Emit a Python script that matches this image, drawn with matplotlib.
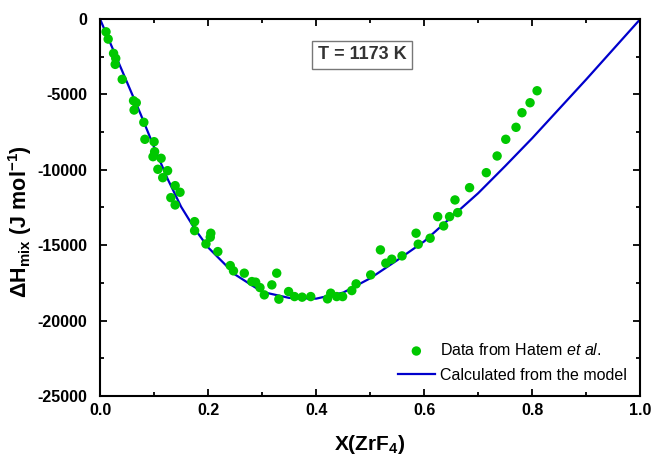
import numpy as np
import matplotlib
matplotlib.use('Agg')
import matplotlib.pyplot as plt
from matplotlib.ticker import MultipleLocator, FormatStrFormatter

plt.rcParams['font.family'] = 'Liberation Sans'
plt.rcParams['axes.unicode_minus'] = False
plt.rcParams['mathtext.fontset'] = 'custom'
plt.rcParams['mathtext.rm'] = 'Liberation Sans'
plt.rcParams['mathtext.bf'] = 'Liberation Sans:bold'
plt.rcParams['mathtext.it'] = 'Liberation Sans:italic'

x_exp = [0.011, 0.015, 0.025, 0.029, 0.028, 0.041, 0.062, 0.067, 0.063, 0.081,
         0.083, 0.100, 0.101, 0.098, 0.113, 0.107, 0.125, 0.116, 0.139, 0.148,
         0.131, 0.139, 0.175, 0.175, 0.205, 0.204, 0.196, 0.218, 0.241, 0.247,
         0.267, 0.327, 0.281, 0.288, 0.296, 0.318, 0.304, 0.331, 0.349, 0.360,
         0.374, 0.390, 0.421, 0.427, 0.438, 0.449, 0.466, 0.474, 0.501, 0.519,
         0.529, 0.540, 0.559, 0.585, 0.589, 0.611, 0.625, 0.636, 0.647, 0.662,
         0.657, 0.684, 0.715, 0.735, 0.751, 0.770, 0.781, 0.796, 0.809]
y_exp = [-842, -1326, -2274, -2606, -3003, -3998, -5417, -5549, -6033, -6849,
         -7976, -8135, -8798, -9129, -9236, -9965, -10058, -10522, -11052, -11490,
         -11848, -12332, -13439, -14036, -14208, -14473, -14918, -15428, -16356, -16707,
         -16860, -16860, -17417, -17457, -17815, -17636, -18299, -18584, -18080, -18412,
         -18451, -18412, -18564, -18186, -18412, -18412, -18014, -17570, -16973, -15315,
         -16197, -15932, -15713, -14208, -14937, -14539, -13107, -13724, -13107, -12842,
         -12000, -11185, -10190, -9083, -7976, -7180, -6212, -5549, -4754]

# model curve
x_mod = [0.0, 0.025, 0.05, 0.075, 0.1, 0.125, 0.15, 0.175, 0.2, 0.25, 0.3, 0.35,
         0.4, 0.45, 0.5, 0.55, 0.6, 0.65, 0.7, 0.75, 0.8, 0.85, 0.9, 0.95, 1.0]
y_mod = [0, -2100, -4200, -6300, -8500, -10600, -12450, -13900, -15150, -16950,
         -18100, -18500, -18550, -18150, -17200, -16000, -14750, -13150, -11550,
         -9750, -7900, -5950, -4000, -2000, 0]

fig = plt.figure(figsize=(6.54, 4.55), dpi=100)
ax = fig.add_axes([0.153, 0.130, 0.826, 0.828])

ax.scatter(x_exp, y_exp, s=46, color='#00c800', edgecolors='none', zorder=3,
           label=r'Data from Hatem $\mathit{et\ al.}$')
ax.plot(x_mod, y_mod, color='#0000cc', lw=1.6, zorder=2,
        label='Calculated from the model')

ax.set_xlim(0, 1.0)
ax.set_ylim(-25000, 0)
ax.xaxis.set_major_locator(MultipleLocator(0.2))
ax.xaxis.set_minor_locator(MultipleLocator(0.1))
ax.yaxis.set_major_locator(MultipleLocator(5000))
ax.yaxis.set_minor_locator(MultipleLocator(2500))
ax.xaxis.set_major_formatter(FormatStrFormatter('%.1f'))

ax.tick_params(which='both', direction='in', top=True, right=True, width=1.3)
ax.tick_params(which='major', length=5, labelsize=11.5)
ax.tick_params(axis='y', which='major', pad=9)
ax.tick_params(axis='x', which='major', pad=5)
ax.tick_params(which='minor', length=3)
for lab in ax.get_xticklabels() + ax.get_yticklabels():
    lab.set_fontweight('bold')
for sp in ax.spines.values():
    sp.set_linewidth(1.5)

ax.set_xlabel(r'X(ZrF$_\mathbf{4}$)', fontsize=15, fontweight='bold', labelpad=11)
ax.set_ylabel(r'$\mathbf{\Delta}$H$_\mathbf{mix}$ (J mol$^\mathbf{-1}$)', fontsize=15.5,
              fontweight='bold')
ax.yaxis.set_label_coords(-0.122, 0.464)

ax.text(0.485, 0.905, 'T = 1173 K', transform=ax.transAxes, fontsize=13,
        fontweight='bold', color='#333333', ha='center', va='center',
        bbox=dict(boxstyle='square,pad=0.3', fc='white', ec='#777777', lw=1))

ax.legend(loc='lower right', bbox_to_anchor=(0.995, 0.005), frameon=False,
          fontsize=11.5, handlelength=2.3, handletextpad=0.3, labelspacing=0.6,
          borderpad=0.2)

fig.savefig('out.png', dpi=100)
